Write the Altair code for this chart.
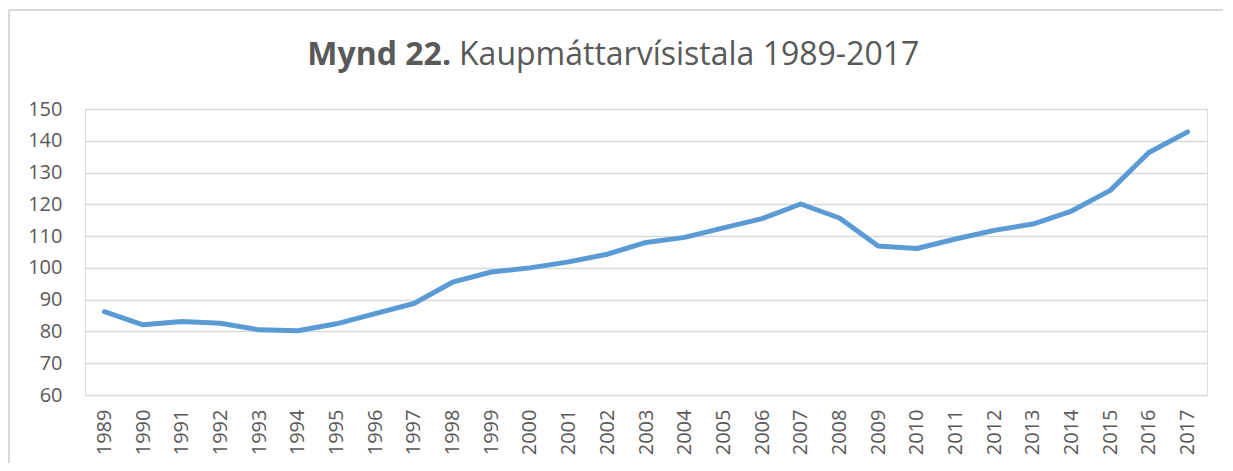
import altair as alt
import pandas as pd

years = [str(y) for y in range(1989, 2018)]
values = [86.2, 82.1, 83.1, 82.6, 80.5, 80.2, 82.4, 85.6, 88.8, 95.5,
          98.7, 100.0, 101.9, 104.3, 108.0, 109.6, 112.6, 115.5, 120.1, 115.7,
          106.9, 106.1, 109.1, 111.8, 113.8, 117.9, 124.4, 136.3, 142.8]

title_bold = "Mynd 22."
title_rest = "Kaupmáttarvísistala 1989-2017"

df = pd.DataFrame({"year": years, "value": values})

FONT = "Open Sans"
GREY = "#595959"

base = alt.Chart(df)

line = base.mark_line(
    color="#5B9BD5", strokeWidth=5, strokeCap="round", strokeJoin="round"
).encode(
    x=alt.X(
        "year:O",
        sort=years,
        title=None,
        scale=alt.Scale(type="point", padding=0.5),
        axis=alt.Axis(
            labelAngle=270,
            labelFontSize=20,
            labelFont=FONT,
            labelColor=GREY,
            labelPadding=14,
            ticks=False,
            domain=False,
            grid=False,
        ),
    ),
    y=alt.Y(
        "value:Q",
        title=None,
        scale=alt.Scale(domain=[60, 150], nice=False, zero=False),
        axis=alt.Axis(
            values=list(range(60, 151, 10)),
            labelFontSize=20,
            labelFont=FONT,
            labelColor=GREY,
            labelPadding=23,
            ticks=False,
            domain=False,
            grid=True,
            gridColor="#d9d9d9",
            gridWidth=1.4,
        ),
    ),
)

one = pd.DataFrame({"a": [0]})
frame_top = alt.Chart(one).mark_rule(color="#d9d9d9", strokeWidth=2).encode(
    x=alt.value(-76), x2=alt.value(1200), y=alt.value(-99)
)
frame_left = alt.Chart(one).mark_rule(color="#d9d9d9", strokeWidth=2).encode(
    x=alt.value(-76), y=alt.value(-99), y2=alt.value(420)
)

t_bold = alt.Chart(pd.DataFrame({"t": [title_bold]})).mark_text(
    font=FONT, fontSize=32, fontWeight="bold", color=GREY, align="right", baseline="alphabetic"
).encode(text="t:N", x=alt.value(366), y=alt.value(-44))

t_rest = alt.Chart(pd.DataFrame({"t": [title_rest]})).mark_text(
    font=FONT, fontSize=32, fontWeight="normal", color=GREY, align="left", baseline="alphabetic"
).encode(text="t:N", x=alt.value(374), y=alt.value(-44))

chart = alt.layer(frame_top, frame_left, line, t_bold, t_rest).properties(
    width=1122,
    height=286,
    autosize=alt.AutoSizeParams(type="none"),
    padding={"left": 77, "top": 101, "right": 16, "bottom": 68},
).configure_view(stroke=None).configure(background="white")

chart.save("out.html", embed_options={"renderer": "svg", "actions": False})
